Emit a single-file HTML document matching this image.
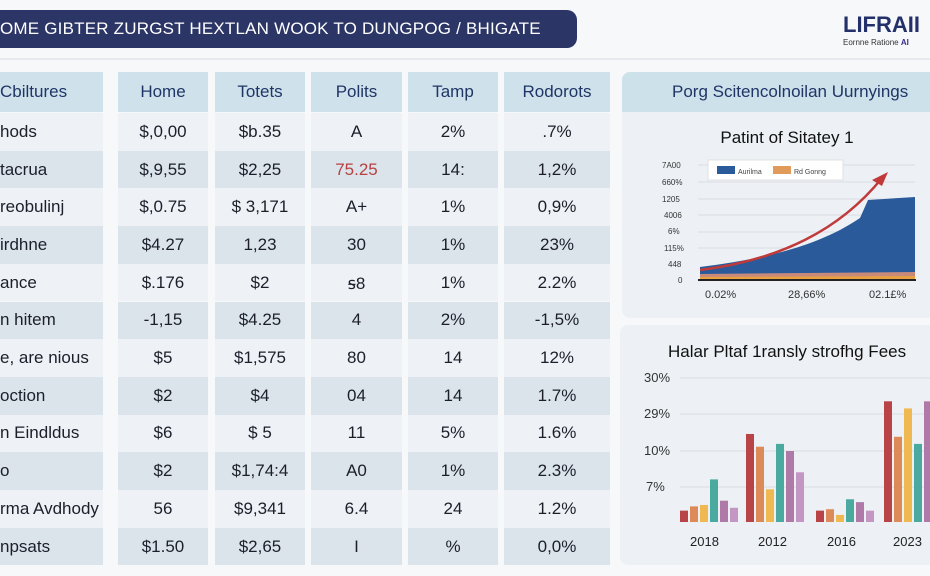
<!DOCTYPE html>
<html><head><meta charset="utf-8"><style>
*{margin:0;padding:0;box-sizing:border-box}
body{width:930px;height:576px;background:#f7f8fa;font-family:"Liberation Sans",sans-serif;position:relative;overflow:hidden}
.ban{position:absolute;left:-20px;top:10px;width:597px;height:38px;background:#2b3566;border-radius:10px;color:#fff;font-size:17px;line-height:38px;padding-left:20px;letter-spacing:0.2px}
.line{position:absolute;left:0;top:58px;width:930px;height:2px;background:#e6e9ee}
.cell{position:absolute;display:flex;align-items:center;justify-content:center;font-size:17px;color:#1c1f2a}
.h{background:#cfe2ec;color:#1f3566;font-size:17px}
.l{background:#eef1f5}.d{background:#dbe4eb}
.left{justify-content:flex-start}
.panel{position:absolute;background:#edf1f5;border-radius:8px}
</style></head><body>
<div class="ban">OME GIBTER ZURGST HEXTLAN WOOK TO DUNGPOG / BHIGATE</div>
<div style="position:absolute;left:843px;top:12px;font-size:22px;font-weight:bold;color:#23306a">LIFRAII</div>
<div style="position:absolute;left:843px;top:38px;font-size:8px;color:#333">Eornne Ratione <b style="color:#3a2a8a">AI</b></div>
<div class="line"></div>
<div id="tbl"></div>
<div class="panel" style="left:622px;top:72px;width:320px;height:246px"></div>
<div style="position:absolute;left:622px;top:72px;width:320px;height:40px;background:#cde1eb;border-radius:8px 8px 0 0;color:#1f3566;font-size:17px;line-height:40px;padding-left:50px">Porg Scitencolnoilan Uurnyings</div>
<div style="position:absolute;left:622px;top:128px;width:330px;text-align:center;font-size:17px;color:#111">Patint of Sitatey 1</div>
<svg style="position:absolute;left:620px;top:150px" width="310" height="160">
<g font-size="8" fill="#333" font-family="Liberation Sans">
<text x="42" y="18">7A00</text><text x="42" y="35">660%</text><text x="42" y="52">1205</text><text x="44" y="68">4006</text><text x="48" y="84">6%</text><text x="44" y="101">115%</text><text x="48" y="117">448</text><text x="58" y="133">0</text>
</g>
<g stroke="#d9dde3"><line x1="78" y1="15" x2="295" y2="15"/><line x1="78" y1="32" x2="295" y2="32"/><line x1="78" y1="49" x2="295" y2="49"/><line x1="78" y1="65" x2="295" y2="65"/><line x1="78" y1="82" x2="295" y2="82"/><line x1="78" y1="98" x2="295" y2="98"/></g>
<path d="M80 117 C150 108 200 95 240 68 L248 50 L295 47 L295 130 L80 130 Z" fill="#2a5a9a"/>
<path d="M80 124 L295 122 L295 130 L80 130Z" fill="#c98a7a"/>
<path d="M80 127 L295 126 L295 130 L80 130Z" fill="#e8a040"/>
<line x1="78" y1="130" x2="296" y2="130" stroke="#222" stroke-width="2"/>
<path d="M80 120 C160 110 220 80 262 28" stroke="#c03a3a" stroke-width="2.5" fill="none"/>
<path d="M268 22 L252 30 L262 36Z" fill="#c03a3a"/>
<rect x="88" y="10" width="135" height="20" fill="#fff" stroke="#e0e0e0"/>
<rect x="97" y="16" width="18" height="8" fill="#2a5a9a"/><text x="118" y="24" font-size="7" fill="#444">Aurilma</text>
<rect x="153" y="16" width="18" height="8" fill="#e09a5a"/><text x="174" y="24" font-size="7" fill="#444">Rd Gonng</text>
<g font-size="11" fill="#333" font-family="Liberation Sans"><text x="85" y="148">0.02%</text><text x="168" y="148">28,66%</text><text x="249" y="148">02.1£%</text></g>
</svg>
<div class="panel" style="left:620px;top:325px;width:320px;height:240px"></div>
<div style="position:absolute;left:668px;top:342px;font-size:17px;color:#111">Halar Pltaf 1ransly strofhg Fees</div>
<svg style="position:absolute;left:620px;top:360px" width="310" height="200">
<g font-size="13" fill="#333" font-family="Liberation Sans"><text x="24" y="22">30%</text><text x="24" y="58">29%</text><text x="24" y="95">10%</text><text x="26" y="131">7%</text></g>
<g stroke="#d9dde3"><line x1="60" y1="18" x2="310" y2="18"/><line x1="60" y1="54" x2="310" y2="54"/><line x1="60" y1="91" x2="310" y2="91"/><line x1="60" y1="127" x2="310" y2="127"/></g>
<g id="bars"></g>
<g font-size="13" fill="#222" font-family="Liberation Sans"><text x="70" y="186">2018</text><text x="138" y="186">2012</text><text x="207" y="186">2016</text><text x="273" y="186">2023</text></g>
</svg>
<script>
const rows=[["Cbiltures","Home","Totets","Polits","Tamp","Rodorots"],
["hods","$,0,00","$b.35","A","2%",".7%"],
["tacrua","$,9,55","$2,25","75.25","14:","1,2%"],
["reobulinj","$,0.75","$ 3,171","A+","1%","0,9%"],
["irdhne","$4.27","1,23","30","1%","23%"],
["ance","$.176","$2","ꟊ8","1%","2.2%"],
["n hitem","-1,15","$4.25","4","2%","-1,5%"],
["e, are nious","$5","$1,575","80","14","12%"],
["oction","$2","$4","04","14","1.7%"],
["n Eindldus","$6","$ 5","11","5%","1.6%"],
["o","$2","$1,74:4","A0","1%","2.3%"],
["rma Avdhody","56","$9,341","6.4","24","1.2%"],
["npsats","$1.50","$2,65","I","%","0,0%"]];
const cols=[[-10,113],[118,90],[215,90],[311,91],[408,90],[504,106]];
let h="";
rows.forEach((r,i)=>{const y=i==0?72:113+(i-1)*37.7;const hh=i==0?40:37.7;
r.forEach((t,j)=>{const cl=i==0?"h":(i%2?"l":"d");const c=cols[j];
const st=(i==2&&j==3)?"color:#b84040;":"";
h+=`<div class="cell ${cl} ${j==0?'left':''}" style="left:${c[0]}px;top:${y}px;width:${c[1]}px;height:${hh}px;${st}${j==0?'padding-left:10px;':''}">${t}</div>`;});});
document.getElementById("tbl").innerHTML=h;
const cs=["#b84448","#dc8a58","#f0b850","#4aaaa0","#b07aa8","#c496c4"];
const g=[[60,[8,11,12,30,15,10]],[126,[62,53,23,55,50,35]],[196,[8,9,5,16,14,8]],[264,[85,60,80,55,85,70]]];
let b="";const base=162;
g.forEach(([x,v])=>{v.forEach((hv,k)=>{if(x+k*10>305)return;b+=`<rect x="${x+k*10}" y="${base-hv*1.42}" width="8" height="${hv*1.42}" fill="${cs[k]}"/>`;});});
document.getElementById("bars").innerHTML=b;
</script>
</body></html>
